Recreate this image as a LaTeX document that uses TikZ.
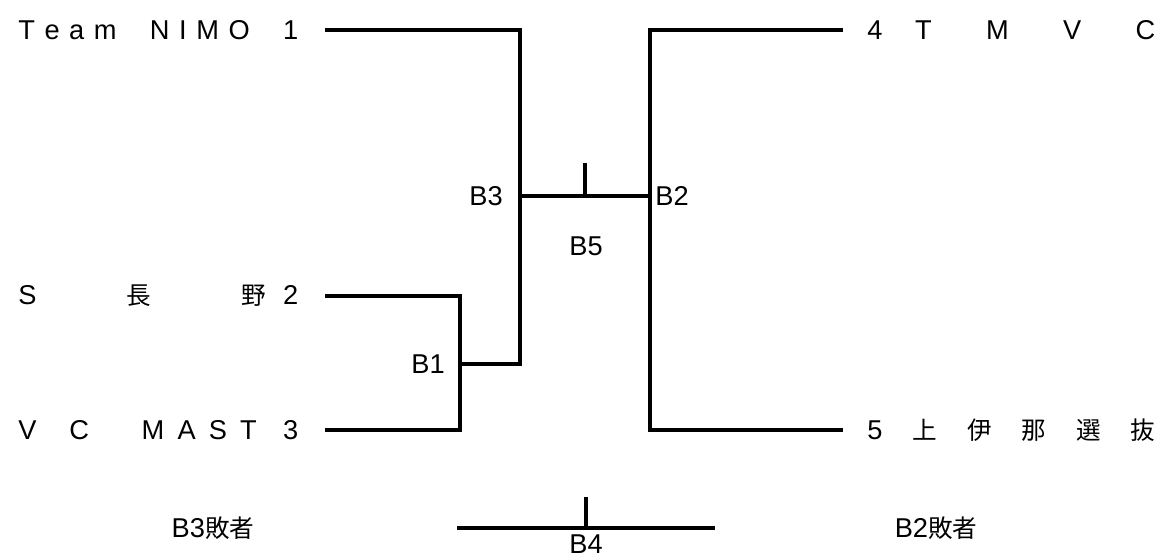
\documentclass[tikz,border=0pt]{standalone}
\usepackage{fontspec}
\setmainfont{Liberation Sans}
\newfontfamily\jp{Noto Sans CJK JP}
\usetikzlibrary{calc}

\tikzset{
  team/.style={inner sep=0pt, font=\fontsize{15.5}{17}\selectfont},
  lbl/.style={inner sep=0pt, font=\fontsize{15.5}{17}\selectfont},
  bracket/.style={line width=1.8pt}
}
\newcommand{\gap}[1]{\hskip 0pt plus #1fil\relax}
\newcommand{\kj}[1]{{\jp\fontsize{14}{17}\selectfont #1}}

\begin{document}
\begin{tikzpicture}[x=0.02cm,y=-0.02cm]
\useasboundingbox (0,0) rectangle (1162,557);
% teams, left side
\node[team,anchor=west] (t1) at (18,30) {\makebox[5.6cm][s]{T\gap{1}e\gap{1}a\gap{1}m\gap{3.5}N\gap{1}I\gap{1}M\gap{1}O\gap{3.5}1}};
\node[team,anchor=west] (t2) at (18,296) {\makebox[5.6cm][s]{S\gap{8}\kj{長}\gap{8}\kj{野}\gap{1.5}2}};
\node[team,anchor=west] (t3) at (18,430) {\makebox[5.6cm][s]{V\gap{5}C\gap{8}M\gap{2}A\gap{2}S\gap{2}T\gap{4}3}};
% teams, right side
\node[team,anchor=west] (t4) at (867,30) {\makebox[5.76cm][s]{4\gap{3}T\gap{5}M\gap{5}V\gap{5}C}};
\node[team,anchor=west] (t5) at (867,430) {\makebox[5.76cm][s]{5\gap{1}\kj{上}\gap{1}\kj{伊}\gap{1}\kj{那}\gap{1}\kj{選}\gap{1}\kj{抜}}};

% line ends and joints
\coordinate (l1) at (325,30);
\coordinate (l2) at (325,296);
\coordinate (l3) at (325,430);
\coordinate (r4) at (843,30);
\coordinate (r5) at (843,430);
\coordinate (b1) at (460,364);
\coordinate (b3) at (520,196);
\coordinate (b2) at (650,196);
\coordinate (b5) at (585,196);
\coordinate (b5top) at (585,163);
\coordinate (b4l) at (457,528);
\coordinate (b4r) at (715,528);
\coordinate (b4) at (586,528);
\coordinate (b4top) at (586,497);

\draw[bracket] (l2) -| (b1) |- (l3);
\draw[bracket] (l1) -| (b3) |- (b1);
\draw[bracket] (r4) -| (b2) |- (r5);
\draw[bracket] (b3) -- (b2);
\draw[bracket] (b5) -- (b5top);
\draw[bracket] (b4l) -- (b4r);
\draw[bracket] (b4) -- (b4top);

% match labels
\node[lbl,anchor=east] (lb3) at (503,196) {B3};
\node[lbl,anchor=west] (lb2) at (655,196) {B2};
\node[lbl] (lb5) at (586,246) {B5};
\node[lbl,anchor=east] (lb1) at (445,364) {B1};
\node[lbl,anchor=north] (lb4) at (586,534) {B4};
\node[lbl] (lose3) at (213,528) {B3\kj{敗者}};
\node[lbl] (lose2) at (936,528) {B2\kj{敗者}};
\end{tikzpicture}
\end{document}
